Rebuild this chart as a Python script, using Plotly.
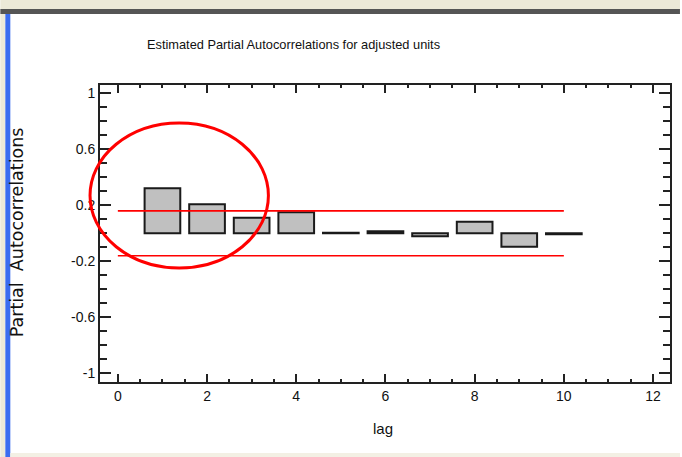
import plotly.graph_objects as go

# Partial autocorrelation estimates by lag
lags = [1, 2, 3, 4, 5, 6, 7, 8, 9, 10]
pacf = [0.321, 0.207, 0.111, 0.150, 0.003, 0.014, -0.022, 0.083, -0.096, -0.006]

# 95% probability limits drawn from lag 0 to lag 10
limit_lags = [0, 10]
limit_value = 0.16

y_tick_vals = [1, 0.6, 0.2, -0.2, -0.6, -1]
y_tick_text = ["1", "0.6", "0.2", "-0.2", "-0.6", "-1"]
x_tick_vals = [0, 2, 4, 6, 8, 10, 12]
x_tick_text = ["0", "2", "4", "6", "8", "10", "12"]

W, H = 682, 457
ML, MR, MT, MB = 100, 10, 85, 75
PW, PH = W - ML - MR, H - MT - MB


def px(x):
    return (x - ML) / PW


def py(y):
    return (H - MB - y) / PH


AXIS = "#222222"
TICK_FONT = dict(family="Liberation Sans, Arial, sans-serif", size=14, color="#111111")

fig = go.Figure()

fig.add_trace(go.Bar(
    x=lags, y=pacf, width=0.8,
    marker=dict(color="#c0c0c0", line=dict(color="#1a1a1a", width=2)),
    showlegend=False, hoverinfo="x+y",
))

for sign in (1, -1):
    fig.add_trace(go.Scatter(
        x=limit_lags, y=[sign * limit_value] * len(limit_lags),
        mode="lines", line=dict(color="#ff0000", width=1.6),
        showlegend=False, hoverinfo="skip",
    ))

fig.update_xaxes(
    range=[-0.4, 12.38], tickvals=x_tick_vals, ticktext=x_tick_text,
    showline=True, linewidth=2, linecolor=AXIS, mirror="ticks",
    ticks="inside", ticklen=8, tickwidth=2, tickcolor=AXIS,
    minor=dict(ticks="inside", ticklen=3, tickwidth=2, tickcolor=AXIS, dtick=0.5, tick0=0),
    showgrid=False, zeroline=False, tickfont=TICK_FONT,
)
fig.update_yaxes(
    range=[-1.062, 1.059], tickvals=y_tick_vals, ticktext=y_tick_text,
    showline=True, linewidth=2, linecolor=AXIS, mirror="ticks",
    ticks="inside", ticklen=11, tickwidth=2, tickcolor=AXIS,
    minor=dict(ticks="inside", ticklen=7, tickwidth=2, tickcolor=AXIS, dtick=0.1, tick0=0),
    showgrid=False, zeroline=False, tickfont=TICK_FONT,
)

shapes = [
    # window chrome: top title strip and dark rule
    dict(type="rect", xref="paper", yref="paper", x0=px(0), x1=px(W), y0=py(0), y1=py(9),
         fillcolor="#ece9d8", line=dict(width=0), layer="below"),
    dict(type="rect", xref="paper", yref="paper", x0=px(0), x1=px(W), y0=py(9), y1=py(14),
         fillcolor="#555555", line=dict(width=0), layer="below"),
    # left edge strip and blue rule
    dict(type="rect", xref="paper", yref="paper", x0=px(0), x1=px(5), y0=py(H), y1=py(14),
         fillcolor="#ece9d8", line=dict(width=0), layer="below"),
    dict(type="rect", xref="paper", yref="paper", x0=px(5), x1=px(10), y0=py(H), y1=py(14),
         fillcolor="#3a6cf0", line=dict(width=0), layer="below"),
    # bottom strip
    dict(type="rect", xref="paper", yref="paper", x0=px(10), x1=px(W), y0=py(H), y1=py(453),
         fillcolor="#f3f0e4", line=dict(width=0), layer="below"),
    # hand-drawn highlight around the first lags
    dict(type="circle", xref="paper", yref="paper", x0=px(90), x1=px(269), y0=py(268), y1=py(123),
         line=dict(color="#ff0000", width=3), layer="above"),
]

annotations = [
    dict(text="Estimated Partial Autocorrelations for adjusted units", xref="paper", yref="paper",
         x=px(294), y=py(44), showarrow=False, xanchor="center", yanchor="middle",
         font=dict(family="Liberation Sans Narrow, Liberation Sans, Arial, sans-serif", size=12.8, color="#111111")),
    dict(text="Partial  Autocorrelations", xref="paper", yref="paper",
         x=px(17), y=py(232), showarrow=False, xanchor="center", yanchor="middle", textangle=-90,
         font=dict(family="DejaVu Sans, sans-serif", size=17.5, color="#111111")),
    dict(text="lag", xref="paper", yref="paper",
         x=px(384), y=py(428), showarrow=False, xanchor="center", yanchor="middle",
         font=dict(family="Liberation Sans, Arial, sans-serif", size=15, color="#111111")),
]

fig.update_layout(
    width=W, height=H, autosize=False,
    margin=dict(l=ML, r=MR, t=MT, b=MB, pad=0),
    paper_bgcolor="white", plot_bgcolor="white",
    shapes=shapes, annotations=annotations,
    bargap=0.2,
)

fig.write_html("out.html")
